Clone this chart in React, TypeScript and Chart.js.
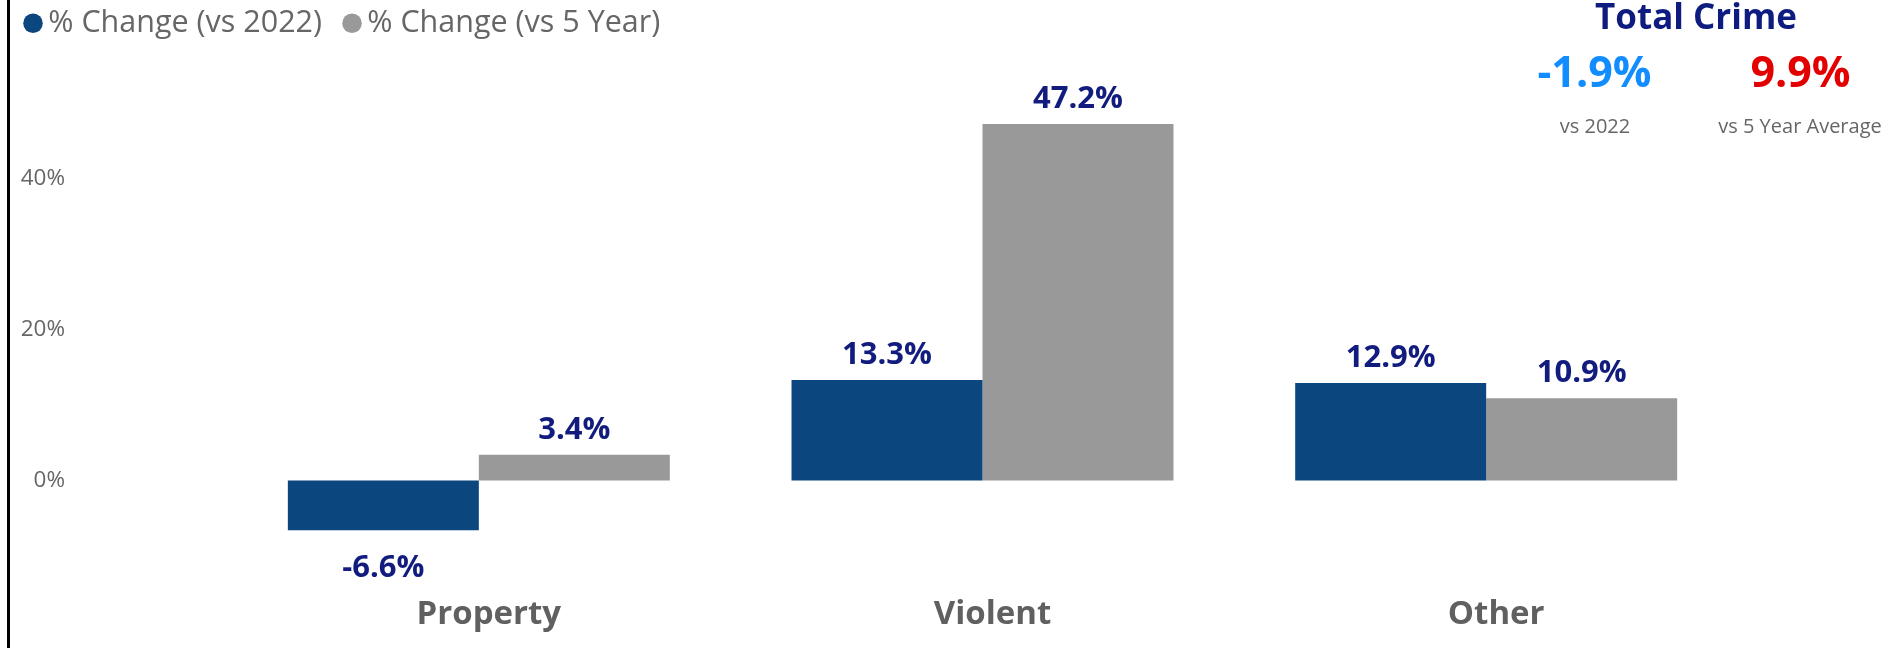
import { useEffect, useRef } from 'react';
import { Chart, registerables } from 'chart.js';

Chart.register(...registerables);

const CATEGORIES = ['Property', 'Violent', 'Other'];
const SERIES_LABELS = ['% Change (vs 2022)', '% Change (vs 5 Year)'];
const VS_2022 = [-6.6, 13.3, 12.9];
const VS_5_YEAR = [3.4, 47.2, 10.9];
const Y_TICKS = [0, 20, 40];
const Y_MIN = -12;
const Y_MAX = 57.2;
const KPI_TITLE = 'Total Crime';
const KPI_VALUES = [-1.9, 9.9];
const KPI_LABELS = ['vs 2022', 'vs 5 Year Average'];

const FONT = '"Open Sans", "Noto Sans", sans-serif';
const DY = 22;
const W = 1886;
const H = 648;

const barLabelPlugin = {
  id: 'barValueLabels',
  afterDatasetsDraw(chart: any) {
    const ctx = chart.ctx;
    ctx.save();
    ctx.font = `bold 31px ${FONT}`;
    ctx.fillStyle = '#111C7E';
    ctx.textAlign = 'center';
    ctx.textBaseline = 'alphabetic';
    chart.data.datasets.forEach((ds: any, di: number) => {
      const meta = chart.getDatasetMeta(di);
      meta.data.forEach((el: any, i: number) => {
        const v = ds.data[i] as number;
        const text = v.toFixed(1) + '%';
        const y = v >= 0 ? el.y - 16 : el.y + 47;
        ctx.fillText(text, el.x, y);
      });
    });
    ctx.restore();
  },
};

const kpiPlugin = {
  id: 'kpiBlock',
  afterDraw(chart: any) {
    const ctx = chart.ctx;
    ctx.save();
    ctx.textAlign = 'center';
    ctx.textBaseline = 'alphabetic';
    ctx.font = `bold 35px ${FONT}`;
    ctx.fillStyle = '#0F1C7F';
    ctx.fillText(KPI_TITLE, 1696, 29 + DY);
    ctx.font = `bold 43px ${FONT}`;
    ctx.fillStyle = '#118DFF';
    ctx.fillText(KPI_VALUES[0].toFixed(1) + '%', 1594.5, 87 + DY);
    ctx.fillStyle = '#E30000';
    ctx.fillText(KPI_VALUES[1].toFixed(1) + '%', 1800.5, 87 + DY);
    ctx.font = `20px ${FONT}`;
    ctx.fillStyle = '#666666';
    ctx.fillText(KPI_LABELS[0], 1595, 133 + DY);
    ctx.fillText(KPI_LABELS[1], 1800, 133 + DY);
    ctx.restore();
  },
};

export default function App() {
  const ref = useRef<HTMLCanvasElement | null>(null);

  useEffect(() => {
    if (!ref.current) return;
    const chart = new Chart(ref.current, {
      type: 'bar',
      data: {
        labels: CATEGORIES,
        datasets: [
          {
            label: SERIES_LABELS[0],
            data: VS_2022,
            backgroundColor: '#0B467E',
            borderWidth: 0,
            categoryPercentage: 0.7584,
            barPercentage: 1,
          },
          {
            label: SERIES_LABELS[1],
            data: VS_5_YEAR,
            backgroundColor: '#999999',
            borderWidth: 0,
            categoryPercentage: 0.7584,
            barPercentage: 1,
          },
        ],
      },
      options: {
        animation: false,
        responsive: true,
        maintainAspectRatio: false,
        layout: { padding: { left: 3, right: 148, top: 0, bottom: 0 } },
        plugins: {
          legend: {
            position: 'top',
            align: 'start',
            labels: {
              usePointStyle: true,
              pointStyle: 'circle',
              boxWidth: 0.01,
              boxHeight: 13.8,
              padding: 30,
              color: '#666666',
              font: { family: FONT, size: 30.5 },
            },
          },
          tooltip: { enabled: false },
        },
        scales: {
          x: {
            grid: { display: false, drawTicks: false },
            border: { display: false },
            ticks: {
              color: '#606060',
              font: { family: FONT, size: 33, weight: 'bold' },
              padding: 24,
              labelOffset: 10,
              maxRotation: 0,
              autoSkip: false,
            },
            afterFit(s: any) {
              s.height = 76.9;
            },
          },
          y: {
            min: Y_MIN,
            max: Y_MAX,
            grid: { display: false, drawTicks: false },
            border: { display: false },
            ticks: {
              color: '#666666',
              font: { family: FONT, size: 22.5 },
              padding: 162,
              callback: (v: any) => v + '%',
            },
            afterBuildTicks(s: any) {
              s.ticks = Y_TICKS.map((v) => ({ value: v }));
            },
            afterFit(s: any) {
              s.width = 224;
              s.paddingTop = 0;
              s.paddingBottom = 0;
            },
          },
        },
      } as any,
      plugins: [barLabelPlugin, kpiPlugin],
    });
    return () => chart.destroy();
  }, []);

  return (
    <div
      style={{
        position: 'fixed',
        left: 0,
        top: 0,
        width: W,
        height: H,
        overflow: 'hidden',
        background: '#ffffff',
      }}
    >
      <div style={{ position: 'absolute', left: 0, top: -DY, width: W, height: H + DY }}>
        <canvas ref={ref} />
      </div>
      <div style={{ position: 'absolute', left: 7, top: 0, width: 3, height: H, background: '#000000' }} />
    </div>
  );
}
